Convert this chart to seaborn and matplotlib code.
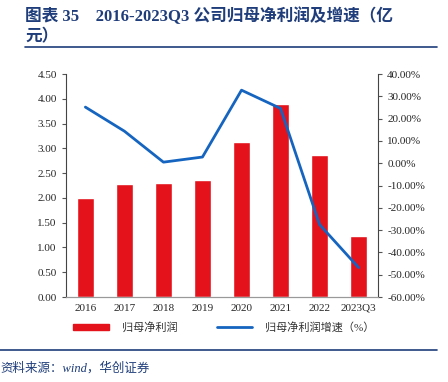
import numpy as np
import pandas as pd
import seaborn as sns
import matplotlib.pyplot as plt
from matplotlib.patches import Patch
from matplotlib.lines import Line2D

sns.set_style("white")
plt.rcParams['font.family'] = ['Liberation Serif', 'Noto Sans CJK SC']
plt.rcParams['axes.unicode_minus'] = False

# data
years = ["2016", "2017", "2018", "2019", "2020", "2021", "2022", "2023Q3"]
profit = [2.00, 2.28, 2.30, 2.36, 3.13, 3.90, 2.86, 1.23]          # 亿元
growth = [25.2, 14.4, 0.5, 2.8, 32.8, 24.6, -27.5, -46.8]          # %

df = pd.DataFrame({"year": years, "profit": profit, "growth": growth})

red = "#e3121b"
blue = "#1565c0"
navy = "#1f3d7a"

fig = plt.figure(figsize=(4.48, 3.82), dpi=100)
ax = fig.add_axes([0.147, 0.2225, 0.697, 0.5835])

sns.barplot(data=df, x="year", y="profit", color=red, width=0.42,
            saturation=1, ax=ax)
ax.set_xlim(-0.5, len(years) - 0.5)
ax.set_ylim(0, 4.5)
ax.set_yticks(np.arange(0, 4.51, 0.5))
ax.set_yticklabels([f"{v:.2f}" for v in np.arange(0, 4.51, 0.5)], fontsize=8)
ax.set_xlabel("")
ax.set_ylabel("")
ax.tick_params(axis="x", which="major", length=0, labelsize=8, pad=5)
ax.set_xticks(np.arange(-0.5, len(years)), minor=True)
ax.tick_params(axis="x", which="minor", length=3, color="#555555", direction="out")
ax.tick_params(axis="y", length=3, color="#555555", direction="out", left=True)

ax2 = ax.twinx()
sns.lineplot(x=np.arange(len(years)), y=df["growth"], color=blue, lw=2, ax=ax2)
ax2.set_ylim(-60, 40)
ax2.set_yticks(np.arange(-60, 41, 10))
ax2.set_yticklabels([f"{v:.2f}%" for v in np.arange(-60, 41, 10)], fontsize=8)
ax2.set_ylabel("")
ax2.tick_params(axis="y", length=3, color="#555555", direction="out", right=True)

for a in (ax, ax2):
    a.spines["top"].set_visible(False)
    a.spines["left"].set_color("#444444")
    a.spines["right"].set_color("#444444")
    a.spines["bottom"].set_color("#999999")
    a.spines["left"].set_linewidth(0.8)
    a.spines["right"].set_linewidth(0.8)
ax2.spines["left"].set_visible(False)
ax.spines["right"].set_visible(False)

# legend below the categories
handles = [Patch(facecolor=red, edgecolor=red),
           Line2D([0], [0], color=blue, lw=2)]
fig.legend(handles, ["归母净利润", "归母净利润增速（%）"], loc="center",
           bbox_to_anchor=(0.5, 0.143), ncol=2, frameon=False, fontsize=8,
           handlelength=3.2, handleheight=0.55, columnspacing=3.5,
           handletextpad=1.2, labelcolor="#333333")

# title, rules and source
fig.text(0.056, 1 - 16 / 382, "图表 35    2016-2023Q3 公司归母净利润及增速（亿",
         fontsize=12, fontweight="bold", color=navy, va="center")
fig.text(0.056, 1 - 37 / 382, "元）", fontsize=12, fontweight="bold",
         color=navy, va="center")
fig.add_artist(Line2D([0.056, 0.976], [1 - 47 / 382, 1 - 47 / 382],
                      color=navy, lw=1.2, transform=fig.transFigure))
fig.add_artist(Line2D([0.0, 0.976], [1 - 350 / 382, 1 - 350 / 382],
                      color=navy, lw=1.2, transform=fig.transFigure))
fig.text(0.0, 1 - 368 / 382, "资料来源：wind，华创证券", fontsize=9,
         style="italic", color=navy, va="center")

fig.savefig("out.png", dpi=100)
